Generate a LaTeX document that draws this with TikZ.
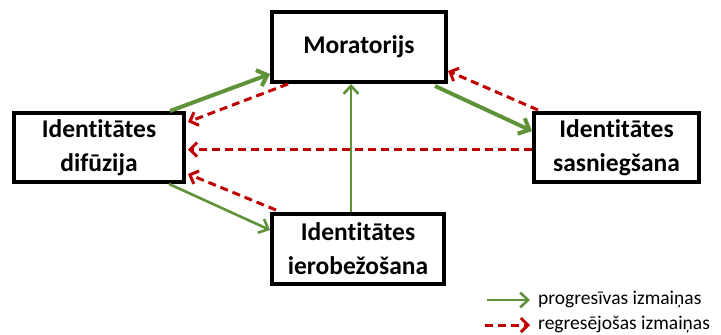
\documentclass[tikz,border=0pt]{standalone}
\usepackage{fontspec}
\setmainfont{Carlito}[Ligatures=NoCommon]
\usetikzlibrary{arrows.meta,calc}
\definecolor{progr}{RGB}{96,146,58}
\definecolor{regr}{RGB}{192,0,0}
\begin{document}
\begin{tikzpicture}[x=1pt,y=-1pt,
  stage/.style={draw=black, line width=4pt, fill=white, inner sep=0pt,
    align=center, font=\bfseries\fontsize{25.5}{34}\selectfont},
  fwd/.style={draw=progr, line width=4pt, -{Straight Barb[length=9pt,width=17pt]}},
  fwdthin/.style={draw=progr, line width=2.6pt, -{Straight Barb[length=8pt,width=15pt]}},
  back/.style={draw=regr, line width=3pt, dash pattern=on 8pt off 5pt,
    -{Straight Barb[length=7pt,width=14pt]}},
  legtext/.style={anchor=west, inner sep=0pt, font=\fontsize{19.5}{23}\selectfont}]
\useasboundingbox (0,0) rectangle (721,335);
% stage boxes
\node[stage, minimum width=174pt, minimum height=70pt] (mor) at (359,47) {Moratorijs};
\node[stage, minimum width=170pt, minimum height=69pt] (dif) at (99,147.5) {Identitātes\\difūzija};
\node[stage, minimum width=165pt, minimum height=69pt] (sas) at (616.5,147.5) {Identitātes\\sasniegšana};
\node[stage, minimum width=172pt, minimum height=70pt] (ier) at (358,249) {Identitātes\\ierobežošana};
% progressive transitions
\draw[fwd] ($(dif.north east)+(-16,0)$) -- ($(mor.south west)+(0,-10)$);
\draw[fwd] ($(mor.south east)+(-13,2)$) -- ($(sas.north west)+(0,20)$);
\draw[fwdthin] ($(dif.south east)+(-17,0)$) -- ($(ier.north west)+(0,18)$);
\draw[fwdthin] ($(ier.north west)+(81,0)$) -- ($(mor.south west)+(81,0)$);
% regressive transitions
\draw[back] ($(mor.south west)+(18,0)$) -- ($(dif.north east)+(2,11)$);
\draw[back] ($(sas.north west)+(6,-1)$) -- ($(mor.south east)+(0,-13)$);
\draw[back] ($(sas.west)+(0,2)$) -- ($(dif.east)+(2,2)$);
\draw[back] ($(ier.north west)+(6,-2)$) -- ($(dif.south east)+(2,-10)$);
% legend
\coordinate (g1) at (487,300);
\coordinate (g2) at (530,300);
\coordinate (r1) at (485,325);
\coordinate (r2) at (530,325);
\draw[fwdthin] (g1) -- (g2);
\draw[back] (r1) -- (r2);
\node[legtext] (lg) at (538,300) {progresīvas izmaiņas};
\node[legtext] (lr) at (538,325) {regresējošas izmaiņas};
\end{tikzpicture}
\end{document}
